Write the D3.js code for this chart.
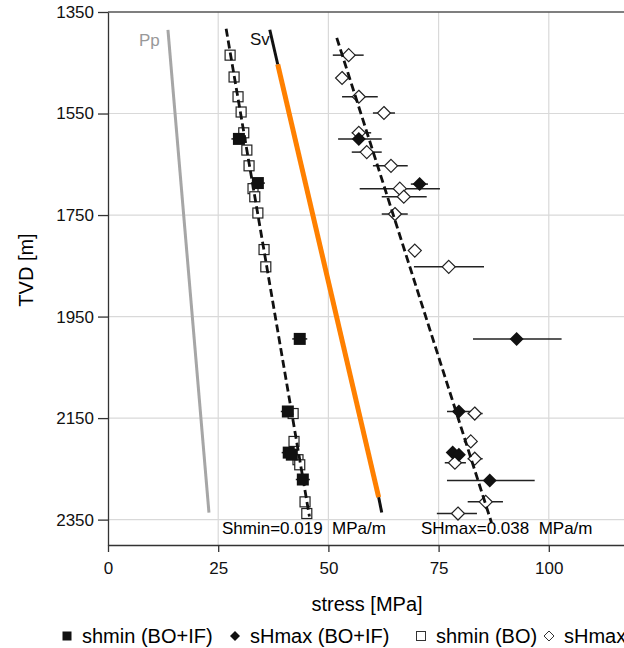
<!DOCTYPE html>
<html>
<head>
<meta charset="utf-8">
<script src="https://cdn.jsdelivr.net/npm/d3@7"></script>
<style>
  body { margin: 0; background: #fff; }
  svg { font-family: "Liberation Sans", Arial, Helvetica, sans-serif; }
  .grid line { stroke: #d9d9d9; stroke-width: 1.2; }
  .axis path, .axis line { stroke: #333; stroke-width: 1.3; }
  .axis text { font-size: 17px; fill: #111; }
</style>
</head>
<body>
<svg id="chart" width="624" height="648"></svg>
<script>
// tick labels
const depthTicks = [1350, 1550, 1750, 1950, 2150, 2350];
const stressTicks = [0, 25, 50, 75, 100];

// shmin from breakouts only (open squares): [depth m, stress MPa]
const shminBO = [
  [1435, 27.7], [1478, 28.6], [1517, 29.5], [1547, 30.2], [1588, 30.8],
  [1622, 31.5], [1653, 32.0], [1698, 32.9], [1714, 33.3], [1746, 34.0],
  [1818, 35.4], [1852, 35.8], [2141, 42.0], [2196, 42.2], [2232, 43.1],
  [2242, 43.5], [2315, 44.7], [2338, 45.1]
];
// shmin from breakouts + induced fractures (filled squares): [depth, stress, lo, hi]
const shminBOIF = [
  [1600, 29.7, 28.0, 31.4], [1687, 34.0, 32.4, 35.6], [1994, 43.5, 41.8, 45.2],
  [2137, 40.8, 39.2, 42.4], [2218, 41.0, 39.4, 42.6], [2222, 41.7, 40.1, 43.3],
  [2271, 44.2, 42.6, 45.8]
];
// sHmax from breakouts + induced fractures (filled diamonds): [depth, stress, lo, hi]
const shmaxBOIF = [
  [1600, 56.9, 52.2, 62.1], [1689, 70.7, 68.7, 72.6], [1994, 92.7, 82.8, 102.9],
  [2137, 79.6, 76.9, 82.8], [2218, 78.2, 78.2, 78.2], [2222, 79.6, 79.6, 79.6],
  [2273, 86.6, 76.9, 96.8]
];
// sHmax from breakouts only (open diamonds): [depth, stress, lo, hi]
const shmaxBO = [
  [1435, 54.6, 51.0, 58.0], [1480, 53.1, 52.0, 54.5], [1517, 56.9, 53.1, 61.2],
  [1549, 62.6, 60.1, 65.1], [1588, 56.9, 55.3, 59.7], [1626, 58.7, 55.3, 62.1],
  [1653, 64.2, 60.1, 68.0], [1698, 66.2, 57.1, 75.3], [1714, 67.1, 62.1, 72.3],
  [1748, 65.1, 62.1, 68.0], [1820, 69.6, 68.5, 70.7], [1852, 77.3, 69.4, 85.3],
  [2141, 83.2, 81.6, 85.0], [2196, 82.3, 82.3, 82.3], [2230, 83.2, 81.6, 85.0],
  [2238, 78.7, 76.4, 81.2], [2315, 85.7, 81.6, 89.6], [2338, 79.4, 74.6, 83.7]
];

// pore pressure, overburden and gradient fits: [depth, stress]
const ppLine = [[1385, 13.6], [2336, 22.9]];
const svTop = [[1385, 36.7], [1453, 38.5]];
const svMid = [[1453, 38.5], [2306, 61.4]];
const svBottom = [[2306, 61.4], [2336, 62.1]];
const shminFit = [[1383, 26.8], [2344, 45.7]];
const shmaxFit = [[1401, 51.9], [2356, 87.0]];

const legendItems = ["shmin (BO+IF)", "sHmax (BO+IF)", "shmin (BO)", "sHmax (BO)"];

const svg = d3.select("#chart");
const x = d3.scaleLinear().domain([0, 125]).range([108, 659]);
const y = d3.scaleLinear().domain([1350, 2400]).range([12, 545]);

// grid
const grid = svg.append("g").attr("class", "grid");
grid.selectAll(".gx")
    .data(stressTicks.filter(d => d > 0))
    .enter().append("line")
    .attr("x1", d => x(d)).attr("x2", d => x(d))
    .attr("y1", y(1350)).attr("y2", y(2400));
grid.selectAll(".gy")
    .data(depthTicks.filter(d => d > 1350))
    .enter().append("line")
    .attr("x1", x(0)).attr("x2", x(125))
    .attr("y1", d => y(d)).attr("y2", d => y(d));

// top border
svg.append("line")
    .attr("x1", x(0)).attr("x2", x(125))
    .attr("y1", y(1350)).attr("y2", y(1350))
    .attr("stroke", "#555").attr("stroke-width", 1.5);

// axes
svg.append("g")
    .attr("class", "axis")
    .attr("transform", "translate(" + x(0) + ",0)")
    .call(d3.axisLeft(y).tickValues(depthTicks).tickSize(10).tickSizeOuter(0).tickPadding(4).tickFormat(d3.format("d")));
svg.append("g")
    .attr("class", "axis")
    .attr("transform", "translate(0," + y(2400) + ")")
    .call(d3.axisBottom(x).tickValues(stressTicks).tickSize(7).tickSizeOuter(0).tickPadding(10));

// axis titles
svg.append("text")
    .attr("transform", "translate(33,270) rotate(-90)")
    .attr("text-anchor", "middle")
    .style("font-size", "20px")
    .text("TVD [m]");
svg.append("text")
    .attr("x", 367).attr("y", 611)
    .attr("text-anchor", "middle")
    .style("font-size", "20px")
    .text("stress [MPa]");

const line = d3.line()
    .x(d => x(d[1]))
    .y(d => y(d[0]));

// Pp and Sv
svg.append("path").datum(ppLine).attr("d", line)
    .attr("fill", "none").attr("stroke", "#a6a6a6").attr("stroke-width", 3);
svg.append("path").datum(svMid).attr("d", line)
    .attr("fill", "none").attr("stroke", "#ff8000").attr("stroke-width", 5);
[svTop, svBottom].forEach(function (seg) {
    svg.append("path").datum(seg).attr("d", line)
        .attr("fill", "none").attr("stroke", "#111").attr("stroke-width", 3);
});

// error bars
const bars = svg.append("g").attr("stroke", "#222").attr("stroke-width", 1.5);
[shmaxBO, shmaxBOIF, shminBOIF].forEach(function (series) {
    bars.selectAll(null)
        .data(series.filter(d => d[3] > d[2]))
        .enter().append("line")
        .attr("x1", d => x(d[2])).attr("x2", d => x(d[3]))
        .attr("y1", d => y(d[0])).attr("y2", d => y(d[0]));
});

// open markers
const diamond = function (r) {
    return "M0," + (-r) + "L" + r + ",0L0," + r + "L" + (-r) + ",0Z";
};
svg.append("g").selectAll("rect")
    .data(shminBO)
    .enter().append("rect")
    .attr("x", d => x(d[1]) - 5).attr("y", d => y(d[0]) - 5)
    .attr("width", 10).attr("height", 10)
    .attr("fill", "#fff").attr("stroke", "#222").attr("stroke-width", 1.2);
svg.append("g").selectAll("path")
    .data(shmaxBO)
    .enter().append("path")
    .attr("transform", d => "translate(" + x(d[1]) + "," + y(d[0]) + ")")
    .attr("d", diamond(6.5))
    .attr("fill", "#fff").attr("stroke", "#222").attr("stroke-width", 1.2);

// gradient fits
[shminFit, shmaxFit].forEach(function (fit) {
    svg.append("path").datum(fit).attr("d", line)
        .attr("fill", "none").attr("stroke", "#111")
        .attr("stroke-width", 2.8).attr("stroke-dasharray", "8,4");
});

// filled markers
svg.append("g").selectAll("rect")
    .data(shminBOIF)
    .enter().append("rect")
    .attr("x", d => x(d[1]) - 6).attr("y", d => y(d[0]) - 6)
    .attr("width", 12).attr("height", 12)
    .attr("fill", "#111");
svg.append("g").selectAll("path")
    .data(shmaxBOIF)
    .enter().append("path")
    .attr("transform", d => "translate(" + x(d[1]) + "," + y(d[0]) + ")")
    .attr("d", diamond(7))
    .attr("fill", "#111");

// labels
svg.append("text").attr("x", 139).attr("y", 46)
    .style("font-size", "17px").attr("fill", "#999").text("Pp");
svg.append("text").attr("x", 250).attr("y", 45)
    .style("font-size", "17px").attr("fill", "#111").text("Sv");
svg.append("text").attr("x", 222).attr("y", 534)
    .style("font-size", "17px").style("white-space", "pre").text("Shmin=0.019  MPa/m");
svg.append("text").attr("x", 421).attr("y", 534)
    .style("font-size", "17px").style("white-space", "pre").text("SHmax=0.038  MPa/m");

// legend (runs past the right edge, like the original figure)
const legendX = [67, 235, 421, 549];
const legend = svg.append("g");
legendItems.forEach(function (name, i) {
    const cx = legendX[i], cy = 636;
    if (i % 2 == 0) {
        legend.append("rect")
            .attr("x", cx - 4.5).attr("y", cy - 4.5).attr("width", 9).attr("height", 9)
            .attr("fill", i == 0 ? "#111" : "#fff")
            .attr("stroke", "#333").attr("stroke-width", i == 0 ? 0 : 1);
    } else {
        legend.append("path")
            .attr("transform", "translate(" + cx + "," + cy + ")")
            .attr("d", diamond(5))
            .attr("fill", i == 1 ? "#111" : "#fff")
            .attr("stroke", "#333").attr("stroke-width", i == 1 ? 0 : 1);
    }
    legend.append("text")
        .attr("x", cx + 15).attr("y", cy + 7)
        .style("font-size", "20px")
        .text(name);
});
</script>
</body>
</html>
